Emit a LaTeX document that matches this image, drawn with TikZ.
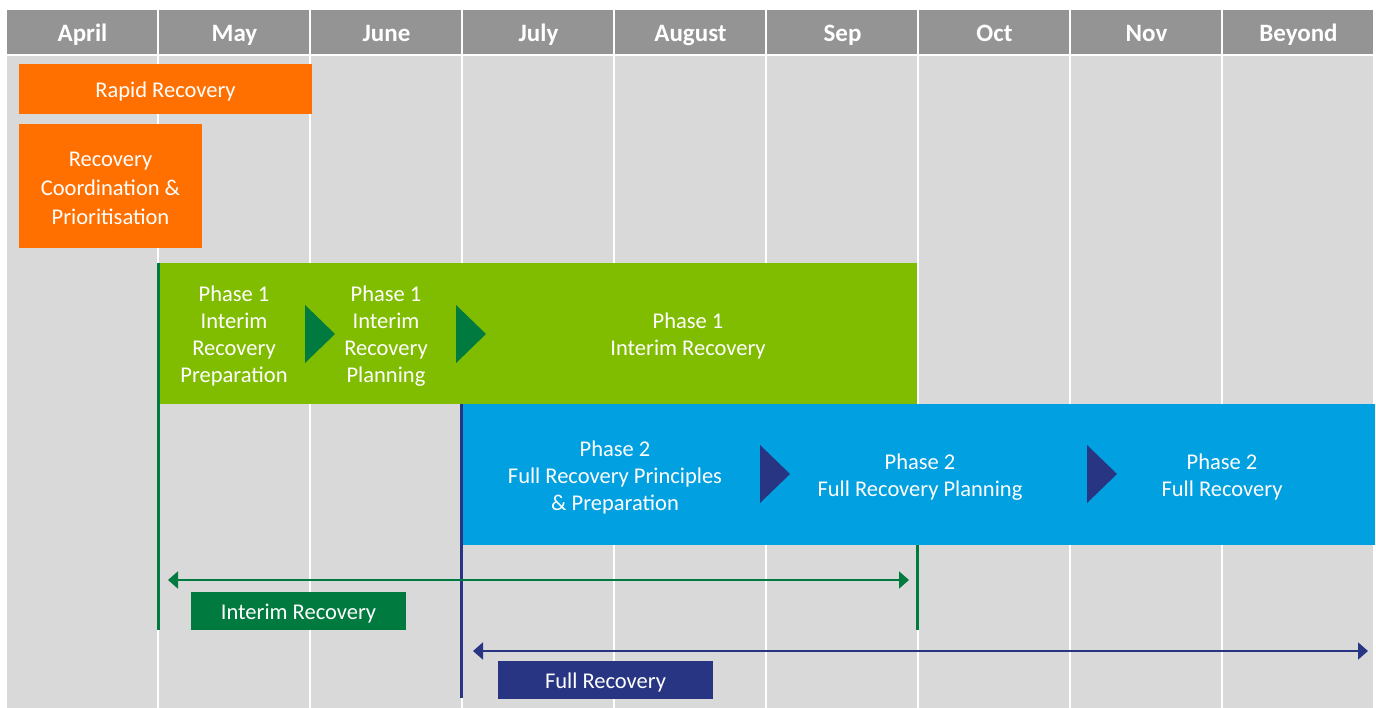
\documentclass[tikz,border=0pt]{standalone}
\usepackage{fontspec}
\setmainfont{Carlito}
\usetikzlibrary{arrows.meta}
\definecolor{hdrgray}{HTML}{949494}
\definecolor{bodygray}{HTML}{D9D9D9}
\definecolor{rorange}{HTML}{FF7000}
\definecolor{lgreen}{HTML}{80BD00}
\definecolor{dgreen}{HTML}{007A3E}
\definecolor{lblue}{HTML}{00A0E1}
\definecolor{navy}{HTML}{283583}
\tikzset{
  hdrtext/.style={text=white,font=\bfseries\fontsize{25}{28}\selectfont,anchor=base,inner sep=0pt},
  boxtext/.style={text=white,align=center,font=\fontsize{22.5}{27}\selectfont,inner sep=0pt,yshift=-2.5pt},
  bar/.style={inner sep=0pt,outer sep=0pt,draw=none},
  sep/.style={white,line width=2pt},
  mark line/.style={line width=3pt},
  span arrow/.style={line width=2pt,{Triangle[length=10pt,width=17pt]}-{Triangle[length=10pt,width=17pt]}},
  tri/.style={inner sep=0pt}
}
\begin{document}
\begin{tikzpicture}[x=1pt,y=-1pt]
\useasboundingbox (0,0) rectangle (1376,708);
\fill[white] (0,0) rectangle (1376,708);
\fill[hdrgray] (7,10) rectangle (1373,54);
\fill[bodygray] (7,56) rectangle (1373,708);
\foreach \x in {158,310,462,614,766,918,1070,1222} \draw[sep] (\x,10) -- (\x,708);
\foreach \m [count=\i] in {April,May,June,July,August,Sep,Oct,Nov,Beyond}
  \node[hdrtext] (m\i) at ({82.5+(\i-1)*152},41.5) {\m};
% orange boxes
\node[bar,fill=rorange,minimum width=293pt,minimum height=50pt] (rapid) at (165.5,89) {};
\node[boxtext] (rapidt) at (rapid.center) {Rapid Recovery};
\node[bar,fill=rorange,minimum width=183pt,minimum height=124pt] (coord) at (110.5,186) {};
\node[boxtext,font=\fontsize{22.5}{29}\selectfont] (coordt) at (coord.center) {Recovery\\Coordination \&\\Prioritisation};
% green phase 1 band
\node[bar,fill=lgreen,minimum width=759pt,minimum height=141pt] (p1) at (537.5,333.5) {};
\node[boxtext] (p1a) at (234,334) {Phase 1\\Interim\\Recovery\\Preparation};
\node[boxtext] (p1b) at (386,334) {Phase 1\\Interim\\Recovery\\Planning};
\node[boxtext] (p1c) at (688,334) {Phase 1\\Interim Recovery};
\fill[dgreen] (305,305) -- (335,334) -- (305,363) -- cycle;
\fill[dgreen] (456,305) -- (486,334) -- (456,363) -- cycle;
% blue phase 2 band
\node[bar,fill=lblue,minimum width=914pt,minimum height=141pt] (p2) at (918,474.5) {};
\node[boxtext] (p2a) at (615,475) {Phase 2\\Full Recovery Principles\\\& Preparation};
\node[boxtext] (p2b) at (920,475) {Phase 2\\Full Recovery Planning};
\node[boxtext] (p2c) at (1222,475) {Phase 2\\Full Recovery};
\fill[navy] (760,445) -- (790,474) -- (760,503) -- cycle;
\fill[navy] (1087,445) -- (1117,474) -- (1087,503) -- cycle;
% marker lines
\coordinate (g1top) at (158.5,263);
\coordinate (g1bot) at (158.5,630);
\coordinate (g2top) at (917,545);
\coordinate (g2bot) at (917,630);
\coordinate (n1top) at (461.5,404);
\coordinate (n1bot) at (461.5,698);
\draw[mark line,dgreen] (g1top) -- (g1bot);
\draw[mark line,dgreen] (g2top) -- (g2bot);
\draw[mark line,navy] (n1top) -- (n1bot);
% span arrows
\coordinate (ia) at (168,580);
\coordinate (ib) at (909,580);
\coordinate (fa) at (473,651);
\coordinate (fb) at (1368,651);
\draw[span arrow,dgreen] (ia) -- (ib);
\draw[span arrow,navy] (fa) -- (fb);
% labels
\node[bar,fill=dgreen,minimum width=215pt,minimum height=38pt] (ilab) at (298.5,611) {};
\node[boxtext] (ilabt) at (ilab.center) {Interim Recovery};
\node[bar,fill=navy,minimum width=215pt,minimum height=38pt] (flab) at (605.5,680) {};
\node[boxtext] (flabt) at (flab.center) {Full Recovery};
\end{tikzpicture}
\end{document}
